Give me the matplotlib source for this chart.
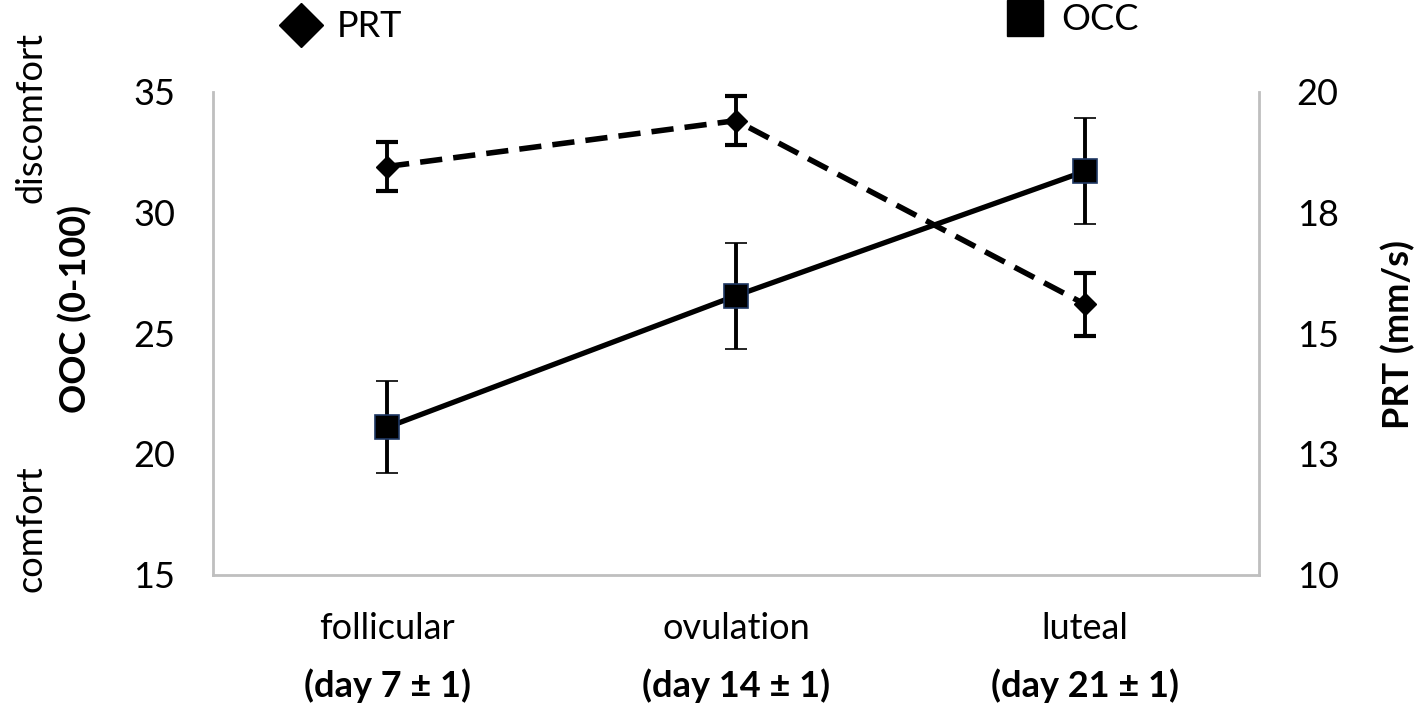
import matplotlib.pyplot as plt
from matplotlib.lines import Line2D

plt.rcParams['font.family'] = ['Lato', 'DejaVu Sans']

phases = ['follicular', 'ovulation', 'luteal']
days = ['(day 7 ± 1)', '(day 14 ± 1)', '(day 21 ± 1)']

# OCC, left axis (0-100 scale)
occ = [21.1, 26.55, 31.7]
occ_err = [1.9, 2.2, 2.2]

# PRT, right axis (mm/s)
prt = [18.45, 19.4, 15.6]
prt_err = [0.5, 0.5, 0.65]

right_ticks = [10, 12.5, 15, 17.5, 20]
right_labels = ['10', '13', '15', '18', '20']

fig = plt.figure(figsize=(14.18, 7.05), dpi=100)
ax = fig.add_axes([0.150, 0.185, 0.738, 0.685])
ax2 = ax.twinx()

x = list(range(len(phases)))

ax.errorbar(x, occ, yerr=occ_err, color='black', lw=3.8, marker='s', ms=17,
            mfc='black', mec='#1f3864', mew=1.2, ecolor='black', elinewidth=2.8,
            capsize=8, capthick=3, zorder=3)
ax2.errorbar(x, prt, yerr=prt_err, color='black', lw=4, ls=(0, (4, 2)),
             marker='D', ms=11, mfc='black', mec='black', ecolor='black',
             elinewidth=2.8, capsize=8, capthick=3, zorder=3)

ax.set_xlim(-0.5, 2.5)
ax.set_ylim(15, 35)
ax2.set_ylim(10, 20)
ax.set_yticks([15, 20, 25, 30, 35])
ax2.set_yticks(right_ticks)
ax2.set_yticklabels(right_labels)

ax.set_xticks(x)
ax.set_xticklabels(phases)

for a in (ax, ax2):
    for s in a.spines.values():
        s.set_visible(False)
    a.tick_params(length=0, labelsize=26)
ax.spines['left'].set_visible(True)
ax.spines['bottom'].set_visible(True)
ax2.spines['right'].set_visible(True)
for s in (ax.spines['left'], ax.spines['bottom'], ax2.spines['right']):
    s.set_color('#bfbfbf')
    s.set_linewidth(2)

ax.tick_params(axis='y', pad=27)
ax2.tick_params(axis='y', pad=27)
ax.tick_params(axis='x', pad=27)

for xi, d in zip(x, days):
    ax.annotate(d, xy=(xi, 0), xycoords=('data', 'axes fraction'),
                xytext=(0, -111), textcoords='offset pixels',
                ha='center', va='center', fontsize=26, fontweight='bold')

fig.text(0.053, 0.562, 'OOC (0-100)', rotation=90, ha='center', va='center',
         fontsize=26, fontweight='bold')
fig.text(0.022, 0.833, 'discomfort', rotation=90, ha='center', va='center',
         fontsize=26)
fig.text(0.022, 0.25, 'comfort', rotation=90, ha='center', va='center',
         fontsize=26)
fig.text(0.986, 0.525, 'PRT (mm/s)', rotation=90, ha='center', va='center',
         fontsize=26, fontweight='bold')

h1 = Line2D([], [], ls='none', marker='D', ms=22, color='black')
h2 = Line2D([], [], ls='none', marker='s', ms=26, color='black')
fig.legend([h1], ['PRT'], loc='center', bbox_to_anchor=(0.235, 0.962),
           frameon=False, fontsize=26, handletextpad=0.0)
fig.legend([h2], ['OCC'], loc='center', bbox_to_anchor=(0.750, 0.972),
           frameon=False, fontsize=26, handletextpad=0.0)

fig.savefig('out.png', dpi=100)
